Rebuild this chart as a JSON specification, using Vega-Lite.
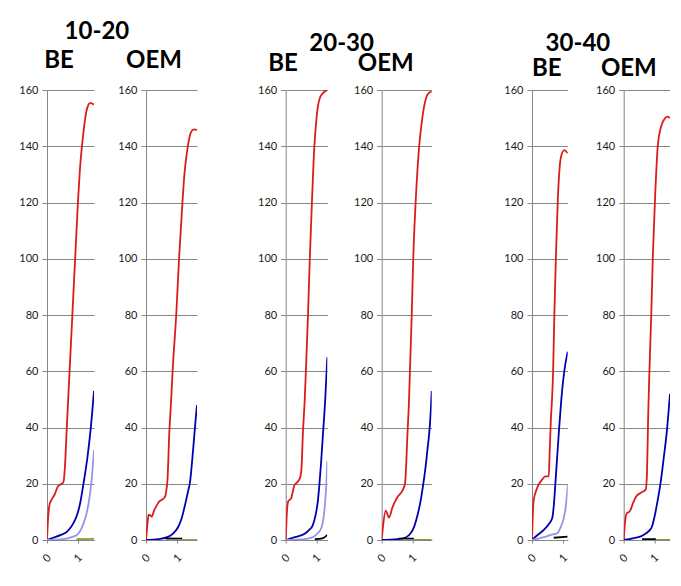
{
"$schema": "https://vega.github.io/schema/vega-lite/v6.json",
"background": "white",
"padding": {"left": 18, "top": 20, "right": 0, "bottom": 0},
"datasets": {"d": [
{"p":1,"s":"red","x":0,"y":0},{"p":1,"s":"red","x":0.03,"y":7},{"p":1,"s":"red","x":0.08,"y":12.5},{"p":1,"s":"red","x":0.13,"y":14},{"p":1,"s":"red","x":0.24,"y":16},{"p":1,"s":"red","x":0.35,"y":19},{"p":1,"s":"red","x":0.45,"y":19.8},{"p":1,"s":"red","x":0.53,"y":20.5},{"p":1,"s":"red","x":0.58,"y":26},{"p":1,"s":"red","x":0.64,"y":40},{"p":1,"s":"red","x":0.73,"y":60},{"p":1,"s":"red","x":0.82,"y":80},{"p":1,"s":"red","x":0.91,"y":100},{"p":1,"s":"red","x":1.0,"y":120},{"p":1,"s":"red","x":1.06,"y":131},{"p":1,"s":"red","x":1.13,"y":140},{"p":1,"s":"red","x":1.2,"y":147},{"p":1,"s":"red","x":1.26,"y":151.6},{"p":1,"s":"red","x":1.33,"y":154.5},{"p":1,"s":"red","x":1.4,"y":155.4},{"p":1,"s":"red","x":1.52,"y":154.8},
{"p":1,"s":"blue","x":0,"y":0},{"p":1,"s":"blue","x":0.2,"y":0.8},{"p":1,"s":"blue","x":0.45,"y":1.8},{"p":1,"s":"blue","x":0.65,"y":3},{"p":1,"s":"blue","x":0.77,"y":4.5},{"p":1,"s":"blue","x":0.9,"y":7},{"p":1,"s":"blue","x":0.99,"y":9.5},{"p":1,"s":"blue","x":1.08,"y":13.5},{"p":1,"s":"blue","x":1.15,"y":18},{"p":1,"s":"blue","x":1.23,"y":23.5},{"p":1,"s":"blue","x":1.31,"y":29.6},{"p":1,"s":"blue","x":1.42,"y":40.3},{"p":1,"s":"blue","x":1.52,"y":53},
{"p":1,"s":"light","x":0,"y":0},{"p":1,"s":"light","x":0.4,"y":0.2},{"p":1,"s":"light","x":0.67,"y":0.6},{"p":1,"s":"light","x":0.85,"y":1.2},{"p":1,"s":"light","x":0.99,"y":2},{"p":1,"s":"light","x":1.1,"y":3.8},{"p":1,"s":"light","x":1.2,"y":6.5},{"p":1,"s":"light","x":1.28,"y":9.5},{"p":1,"s":"light","x":1.36,"y":14},{"p":1,"s":"light","x":1.44,"y":21},{"p":1,"s":"light","x":1.52,"y":32},
{"p":1,"s":"olive","x":0.95,"y":0.3},{"p":1,"s":"olive","x":1.52,"y":0.4},
{"p":2,"s":"red","x":0,"y":0},{"p":2,"s":"red","x":0.04,"y":5},{"p":2,"s":"red","x":0.08,"y":9},{"p":2,"s":"red","x":0.13,"y":8.8},{"p":2,"s":"red","x":0.18,"y":8.3},{"p":2,"s":"red","x":0.26,"y":10.5},{"p":2,"s":"red","x":0.35,"y":12.5},{"p":2,"s":"red","x":0.43,"y":13.8},{"p":2,"s":"red","x":0.51,"y":14.3},{"p":2,"s":"red","x":0.61,"y":15.5},{"p":2,"s":"red","x":0.65,"y":18},{"p":2,"s":"red","x":0.68,"y":21},{"p":2,"s":"red","x":0.74,"y":38},{"p":2,"s":"red","x":0.8,"y":50},{"p":2,"s":"red","x":0.85,"y":61},{"p":2,"s":"red","x":0.96,"y":80},{"p":2,"s":"red","x":1.05,"y":100},{"p":2,"s":"red","x":1.16,"y":120.5},{"p":2,"s":"red","x":1.22,"y":130},{"p":2,"s":"red","x":1.29,"y":137},{"p":2,"s":"red","x":1.36,"y":142},{"p":2,"s":"red","x":1.43,"y":145},{"p":2,"s":"red","x":1.52,"y":146},{"p":2,"s":"red","x":1.62,"y":145.8},
{"p":2,"s":"blue","x":0,"y":0},{"p":2,"s":"blue","x":0.4,"y":0.3},{"p":2,"s":"blue","x":0.72,"y":1.2},{"p":2,"s":"blue","x":0.88,"y":2.5},{"p":2,"s":"blue","x":1.03,"y":4.8},{"p":2,"s":"blue","x":1.14,"y":8},{"p":2,"s":"blue","x":1.24,"y":12.5},{"p":2,"s":"blue","x":1.32,"y":16.5},{"p":2,"s":"blue","x":1.4,"y":20.8},{"p":2,"s":"blue","x":1.5,"y":32.6},{"p":2,"s":"blue","x":1.58,"y":43.3},{"p":2,"s":"blue","x":1.62,"y":48},
{"p":2,"s":"black","x":0.62,"y":0.5},{"p":2,"s":"black","x":1.15,"y":0.5},
{"p":2,"s":"olive","x":1.15,"y":0},{"p":2,"s":"olive","x":1.62,"y":0},
{"p":3,"s":"red","x":0,"y":0},{"p":3,"s":"red","x":0.03,"y":8},{"p":3,"s":"red","x":0.08,"y":13.7},{"p":3,"s":"red","x":0.18,"y":14.9},{"p":3,"s":"red","x":0.29,"y":19.6},{"p":3,"s":"red","x":0.4,"y":20.8},{"p":3,"s":"red","x":0.48,"y":22.5},{"p":3,"s":"red","x":0.52,"y":26},{"p":3,"s":"red","x":0.56,"y":37.5},{"p":3,"s":"red","x":0.62,"y":49.4},{"p":3,"s":"red","x":0.66,"y":60},{"p":3,"s":"red","x":0.73,"y":80.4},{"p":3,"s":"red","x":0.79,"y":100.6},{"p":3,"s":"red","x":0.86,"y":120.8},{"p":3,"s":"red","x":0.94,"y":140.5},{"p":3,"s":"red","x":1.0,"y":149},{"p":3,"s":"red","x":1.05,"y":154},{"p":3,"s":"red","x":1.13,"y":157.5},{"p":3,"s":"red","x":1.21,"y":158.8},{"p":3,"s":"red","x":1.36,"y":160},
{"p":3,"s":"blue","x":0,"y":0},{"p":3,"s":"blue","x":0.3,"y":1},{"p":3,"s":"blue","x":0.62,"y":2.2},{"p":3,"s":"blue","x":0.76,"y":3.5},{"p":3,"s":"blue","x":0.89,"y":5.4},{"p":3,"s":"blue","x":0.98,"y":9},{"p":3,"s":"blue","x":1.05,"y":13.7},{"p":3,"s":"blue","x":1.1,"y":19.5},{"p":3,"s":"blue","x":1.16,"y":28},{"p":3,"s":"blue","x":1.22,"y":38},{"p":3,"s":"blue","x":1.29,"y":49.4},{"p":3,"s":"blue","x":1.36,"y":65},
{"p":3,"s":"light","x":0,"y":0},{"p":3,"s":"light","x":0.6,"y":0.3},{"p":3,"s":"light","x":0.89,"y":1},{"p":3,"s":"light","x":1.05,"y":2.5},{"p":3,"s":"light","x":1.16,"y":4.1},{"p":3,"s":"light","x":1.24,"y":8},{"p":3,"s":"light","x":1.29,"y":13.7},{"p":3,"s":"light","x":1.33,"y":20},{"p":3,"s":"light","x":1.36,"y":28},
{"p":3,"s":"black","x":0.95,"y":0.3},{"p":3,"s":"black","x":1.2,"y":0.6},{"p":3,"s":"black","x":1.3,"y":1.2},{"p":3,"s":"black","x":1.36,"y":1.8},
{"p":4,"s":"red","x":0,"y":0},{"p":4,"s":"red","x":0.04,"y":4.5},{"p":4,"s":"red","x":0.13,"y":10.4},{"p":4,"s":"red","x":0.24,"y":8},{"p":4,"s":"red","x":0.35,"y":11.6},{"p":4,"s":"red","x":0.51,"y":15.2},{"p":4,"s":"red","x":0.67,"y":17.5},{"p":4,"s":"red","x":0.76,"y":20},{"p":4,"s":"red","x":0.84,"y":37.7},{"p":4,"s":"red","x":0.89,"y":49.6},{"p":4,"s":"red","x":0.92,"y":60},{"p":4,"s":"red","x":0.98,"y":80.4},{"p":4,"s":"red","x":1.03,"y":100.6},{"p":4,"s":"red","x":1.11,"y":120.8},{"p":4,"s":"red","x":1.22,"y":139.8},{"p":4,"s":"red","x":1.3,"y":148},{"p":4,"s":"red","x":1.38,"y":154},{"p":4,"s":"red","x":1.5,"y":158.5},{"p":4,"s":"red","x":1.63,"y":159.5},
{"p":4,"s":"blue","x":0,"y":0},{"p":4,"s":"blue","x":0.5,"y":0.3},{"p":4,"s":"blue","x":0.78,"y":0.9},{"p":4,"s":"blue","x":0.95,"y":2.5},{"p":4,"s":"blue","x":1.05,"y":4.5},{"p":4,"s":"blue","x":1.16,"y":8.5},{"p":4,"s":"blue","x":1.27,"y":14},{"p":4,"s":"blue","x":1.35,"y":19.5},{"p":4,"s":"blue","x":1.43,"y":25.9},{"p":4,"s":"blue","x":1.5,"y":33},{"p":4,"s":"blue","x":1.55,"y":38},{"p":4,"s":"blue","x":1.6,"y":46},{"p":4,"s":"blue","x":1.63,"y":53},
{"p":4,"s":"black","x":0.55,"y":0.5},{"p":4,"s":"black","x":1.05,"y":0.5},
{"p":4,"s":"olive","x":1.05,"y":0},{"p":4,"s":"olive","x":1.63,"y":0},
{"p":5,"s":"red","x":0,"y":0},{"p":5,"s":"red","x":0.02,"y":7},{"p":5,"s":"red","x":0.05,"y":13.7},{"p":5,"s":"red","x":0.16,"y":18.4},{"p":5,"s":"red","x":0.32,"y":21.4},{"p":5,"s":"red","x":0.43,"y":22.6},{"p":5,"s":"red","x":0.54,"y":22.6},{"p":5,"s":"red","x":0.57,"y":31.5},{"p":5,"s":"red","x":0.61,"y":43.4},{"p":5,"s":"red","x":0.645,"y":50},{"p":5,"s":"red","x":0.68,"y":60},{"p":5,"s":"red","x":0.72,"y":80.3},{"p":5,"s":"red","x":0.77,"y":100.6},{"p":5,"s":"red","x":0.83,"y":120.8},{"p":5,"s":"red","x":0.88,"y":131},{"p":5,"s":"red","x":0.94,"y":136.5},{"p":5,"s":"red","x":1.04,"y":138.6},{"p":5,"s":"red","x":1.15,"y":137.5},
{"p":5,"s":"blue","x":0,"y":0},{"p":5,"s":"blue","x":0.15,"y":1.5},{"p":5,"s":"blue","x":0.38,"y":3.6},{"p":5,"s":"blue","x":0.55,"y":5.8},{"p":5,"s":"blue","x":0.65,"y":7.7},{"p":5,"s":"blue","x":0.7,"y":12},{"p":5,"s":"blue","x":0.75,"y":19.6},{"p":5,"s":"blue","x":0.86,"y":37.5},{"p":5,"s":"blue","x":0.94,"y":49.4},{"p":5,"s":"blue","x":1.04,"y":60},{"p":5,"s":"blue","x":1.15,"y":67},
{"p":5,"s":"light","x":0,"y":0},{"p":5,"s":"light","x":0.2,"y":0.5},{"p":5,"s":"light","x":0.38,"y":1},{"p":5,"s":"light","x":0.6,"y":1.8},{"p":5,"s":"light","x":0.81,"y":2.4},{"p":5,"s":"light","x":0.92,"y":4.5},{"p":5,"s":"light","x":1.02,"y":7.7},{"p":5,"s":"light","x":1.1,"y":13},{"p":5,"s":"light","x":1.15,"y":19.6},
{"p":5,"s":"black","x":0.7,"y":0.8},{"p":5,"s":"black","x":1.15,"y":1.2},
{"p":6,"s":"red","x":0,"y":0},{"p":6,"s":"red","x":0.04,"y":6},{"p":6,"s":"red","x":0.1,"y":9.5},{"p":6,"s":"red","x":0.2,"y":10.2},{"p":6,"s":"red","x":0.3,"y":13},{"p":6,"s":"red","x":0.4,"y":15.4},{"p":6,"s":"red","x":0.56,"y":16.8},{"p":6,"s":"red","x":0.72,"y":18},{"p":6,"s":"red","x":0.76,"y":24},{"p":6,"s":"red","x":0.8,"y":45},{"p":6,"s":"red","x":0.84,"y":60.4},{"p":6,"s":"red","x":0.9,"y":80.6},{"p":6,"s":"red","x":0.95,"y":100.7},{"p":6,"s":"red","x":1.02,"y":120.9},{"p":6,"s":"red","x":1.11,"y":139.9},{"p":6,"s":"red","x":1.22,"y":147},{"p":6,"s":"red","x":1.35,"y":150},{"p":6,"s":"red","x":1.43,"y":150.5},{"p":6,"s":"red","x":1.51,"y":150},
{"p":6,"s":"blue","x":0,"y":0},{"p":6,"s":"blue","x":0.3,"y":0.6},{"p":6,"s":"blue","x":0.56,"y":1.3},{"p":6,"s":"blue","x":0.73,"y":2.4},{"p":6,"s":"blue","x":0.85,"y":3.5},{"p":6,"s":"blue","x":0.92,"y":4.7},{"p":6,"s":"blue","x":1.0,"y":8},{"p":6,"s":"blue","x":1.09,"y":13},{"p":6,"s":"blue","x":1.2,"y":20.1},{"p":6,"s":"blue","x":1.31,"y":29.6},{"p":6,"s":"blue","x":1.41,"y":39},{"p":6,"s":"blue","x":1.51,"y":52},
{"p":6,"s":"black","x":0.6,"y":0.3},{"p":6,"s":"black","x":1.05,"y":0.3},
{"p":6,"s":"olive","x":1.05,"y":0},{"p":6,"s":"olive","x":1.51,"y":0}
]},
"spacing": 59.7,
"hconcat": [
 {"title": {"text": "10-20", "dx": -11, "offset": 5, "frame": "bounds"},
  "spacing": 23,
  "hconcat": [
   {"width": 47, "height": 450, "title": {"text": "BE", "dx": -11.5, "offset": 11, "frame": "group"},
    "data": {"name": "d"}, "transform": [{"filter": "datum.p == 1"}],
    "mark": {"type": "line", "interpolate": "monotone", "clip": true},
    "encoding": {
     "x": {"field": "x", "type": "quantitative", "scale": {"domain": [0, 1.52], "nice": false, "zero": false}, "axis": {"values": [0, 1], "format": "d", "grid": false, "labelAngle": -45, "labelAlign": "center", "labelBaseline": "middle", "labelPadding": 15, "tickSize": 3, "title": null}},
     "y": {"field": "y", "type": "quantitative", "scale": {"domain": [0, 160], "nice": false}, "axis": {"values": [0,20,40,60,80,100,120,140,160], "title": null, "tickSize": 5, "labelPadding": 4}},
     "color": {"field": "s", "type": "nominal", "scale": {"domain": ["olive","black","light","blue","red"], "range": ["#8c9a2c","#000000","#9595e6","#0000b0","#dc1c1c"]}, "legend": null},
     "strokeWidth": {"field": "s", "type": "nominal", "scale": {"domain": ["olive","black","light","blue","red"], "range": [1.8,1.8,2.5,2.5,2.5]}, "legend": null}
    }},
   {"width": 51, "height": 450, "title": {"text": "OEM", "dx": -17.5, "offset": 11, "frame": "group"},
    "data": {"name": "d"}, "transform": [{"filter": "datum.p == 2"}],
    "mark": {"type": "line", "interpolate": "monotone", "clip": true},
    "encoding": {
     "x": {"field": "x", "type": "quantitative", "scale": {"domain": [0, 1.62], "nice": false, "zero": false}, "axis": {"values": [0, 1], "format": "d", "grid": false, "labelAngle": -45, "labelAlign": "center", "labelBaseline": "middle", "labelPadding": 15, "tickSize": 3, "title": null}},
     "y": {"field": "y", "type": "quantitative", "scale": {"domain": [0, 160], "nice": false}, "axis": {"values": [0,20,40,60,80,100,120,140,160], "title": null, "tickSize": 5, "labelPadding": 4}},
     "color": {"field": "s", "type": "nominal", "scale": {"domain": ["olive","black","light","blue","red"], "range": ["#8c9a2c","#000000","#9595e6","#0000b0","#dc1c1c"]}, "legend": null},
     "strokeWidth": {"field": "s", "type": "nominal", "scale": {"domain": ["olive","black","light","blue","red"], "range": [1.8,1.8,2.5,2.5,2.5]}, "legend": null}
    }}
  ]},
 {"spacing": 71.3,
  "hconcat": [
   {"title": {"text": ["", "20-30"], "lineHeight": 12, "dx": -3, "offset": -4.3, "frame": "bounds"},
    "spacing": 25,
    "hconcat": [
     {"width": 41.6, "height": 450, "title": {"text": "BE", "dx": -23.5, "offset": 8.3, "frame": "group"},
      "data": {"name": "d"}, "transform": [{"filter": "datum.p == 3"}],
      "mark": {"type": "line", "interpolate": "monotone", "clip": true},
      "encoding": {
       "x": {"field": "x", "type": "quantitative", "scale": {"domain": [0, 1.36], "nice": false, "zero": false}, "axis": {"values": [0, 1], "format": "d", "grid": false, "labelAngle": -45, "labelAlign": "center", "labelBaseline": "middle", "labelPadding": 15, "tickSize": 3, "title": null}},
       "y": {"field": "y", "type": "quantitative", "scale": {"domain": [0, 160], "nice": false}, "axis": {"values": [0,20,40,60,80,100,120,140,160], "title": null, "tickSize": 5, "labelPadding": 4}},
       "color": {"field": "s", "type": "nominal", "scale": {"domain": ["olive","black","light","blue","red"], "range": ["#8c9a2c","#000000","#9595e6","#0000b0","#dc1c1c"]}, "legend": null},
       "strokeWidth": {"field": "s", "type": "nominal", "scale": {"domain": ["olive","black","light","blue","red"], "range": [1.8,1.8,2.5,2.5,2.5]}, "legend": null}
      }},
     {"width": 50, "height": 450, "title": {"text": "OEM", "dx": -21, "offset": 8.3, "frame": "group"},
      "data": {"name": "d"}, "transform": [{"filter": "datum.p == 4"}],
      "mark": {"type": "line", "interpolate": "monotone", "clip": true},
      "encoding": {
       "x": {"field": "x", "type": "quantitative", "scale": {"domain": [0, 1.63], "nice": false, "zero": false}, "axis": {"values": [0, 1], "format": "d", "grid": false, "labelAngle": -45, "labelAlign": "center", "labelBaseline": "middle", "labelPadding": 15, "tickSize": 3, "title": null}},
       "y": {"field": "y", "type": "quantitative", "scale": {"domain": [0, 160], "nice": false}, "axis": {"values": [0,20,40,60,80,100,120,140,160], "title": null, "tickSize": 5, "labelPadding": 4}},
       "color": {"field": "s", "type": "nominal", "scale": {"domain": ["olive","black","light","blue","red"], "range": ["#8c9a2c","#000000","#9595e6","#0000b0","#dc1c1c"]}, "legend": null},
       "strokeWidth": {"field": "s", "type": "nominal", "scale": {"domain": ["olive","black","light","blue","red"], "range": [1.8,1.8,2.5,2.5,2.5]}, "legend": null}
      }}
    ]},
   {"title": {"text": ["", "30-40"], "lineHeight": 12, "dx": -9, "offset": 0.7, "frame": "bounds"},
    "spacing": 25.7,
    "hconcat": [
     {"width": 35.7, "height": 450, "title": {"text": "BE", "dx": -3, "offset": 3, "frame": "group"},
      "data": {"name": "d"}, "transform": [{"filter": "datum.p == 5"}],
      "mark": {"type": "line", "interpolate": "monotone", "clip": true},
      "encoding": {
       "x": {"field": "x", "type": "quantitative", "scale": {"domain": [0, 1.15], "nice": false, "zero": false}, "axis": {"values": [0, 1], "format": "d", "grid": false, "labelAngle": -45, "labelAlign": "center", "labelBaseline": "middle", "labelPadding": 15, "tickSize": 3, "title": null}},
       "y": {"field": "y", "type": "quantitative", "scale": {"domain": [0, 160], "nice": false}, "axis": {"values": [0,20,40,60,80,100,120,140,160], "title": null, "tickSize": 5, "labelPadding": 4}},
       "color": {"field": "s", "type": "nominal", "scale": {"domain": ["olive","black","light","blue","red"], "range": ["#8c9a2c","#000000","#9595e6","#0000b0","#dc1c1c"]}, "legend": null},
       "strokeWidth": {"field": "s", "type": "nominal", "scale": {"domain": ["olive","black","light","blue","red"], "range": [1.8,1.8,2.5,2.5,2.5]}, "legend": null}
      }},
     {"width": 46.3, "height": 450, "title": {"text": "OEM", "dx": -18, "offset": 3, "frame": "group"},
      "data": {"name": "d"}, "transform": [{"filter": "datum.p == 6"}],
      "mark": {"type": "line", "interpolate": "monotone", "clip": true},
      "encoding": {
       "x": {"field": "x", "type": "quantitative", "scale": {"domain": [0, 1.51], "nice": false, "zero": false}, "axis": {"values": [0, 1], "format": "d", "grid": false, "labelAngle": -45, "labelAlign": "center", "labelBaseline": "middle", "labelPadding": 15, "tickSize": 3, "title": null}},
       "y": {"field": "y", "type": "quantitative", "scale": {"domain": [0, 160], "nice": false}, "axis": {"values": [0,20,40,60,80,100,120,140,160], "title": null, "tickSize": 5, "labelPadding": 4}},
       "color": {"field": "s", "type": "nominal", "scale": {"domain": ["olive","black","light","blue","red"], "range": ["#8c9a2c","#000000","#9595e6","#0000b0","#dc1c1c"]}, "legend": null},
       "strokeWidth": {"field": "s", "type": "nominal", "scale": {"domain": ["olive","black","light","blue","red"], "range": [1.8,1.8,2.5,2.5,2.5]}, "legend": null}
      }}
    ]}
  ]}
],
"config": {
 "view": {"stroke": null},
 "font": "Lato",
 "axis": {"labelFont": "Lato", "labelFontSize": 11, "labelColor": "#1a1a1a", "domainColor": "#868686", "tickColor": "#868686", "gridColor": "#868686", "gridOpacity": 1, "domainWidth": 1, "gridWidth": 1, "tickWidth": 1},
 "title": {"font": "Lato", "fontSize": 24, "fontWeight": "bold", "color": "#000000", "anchor": "middle"}
}
}
